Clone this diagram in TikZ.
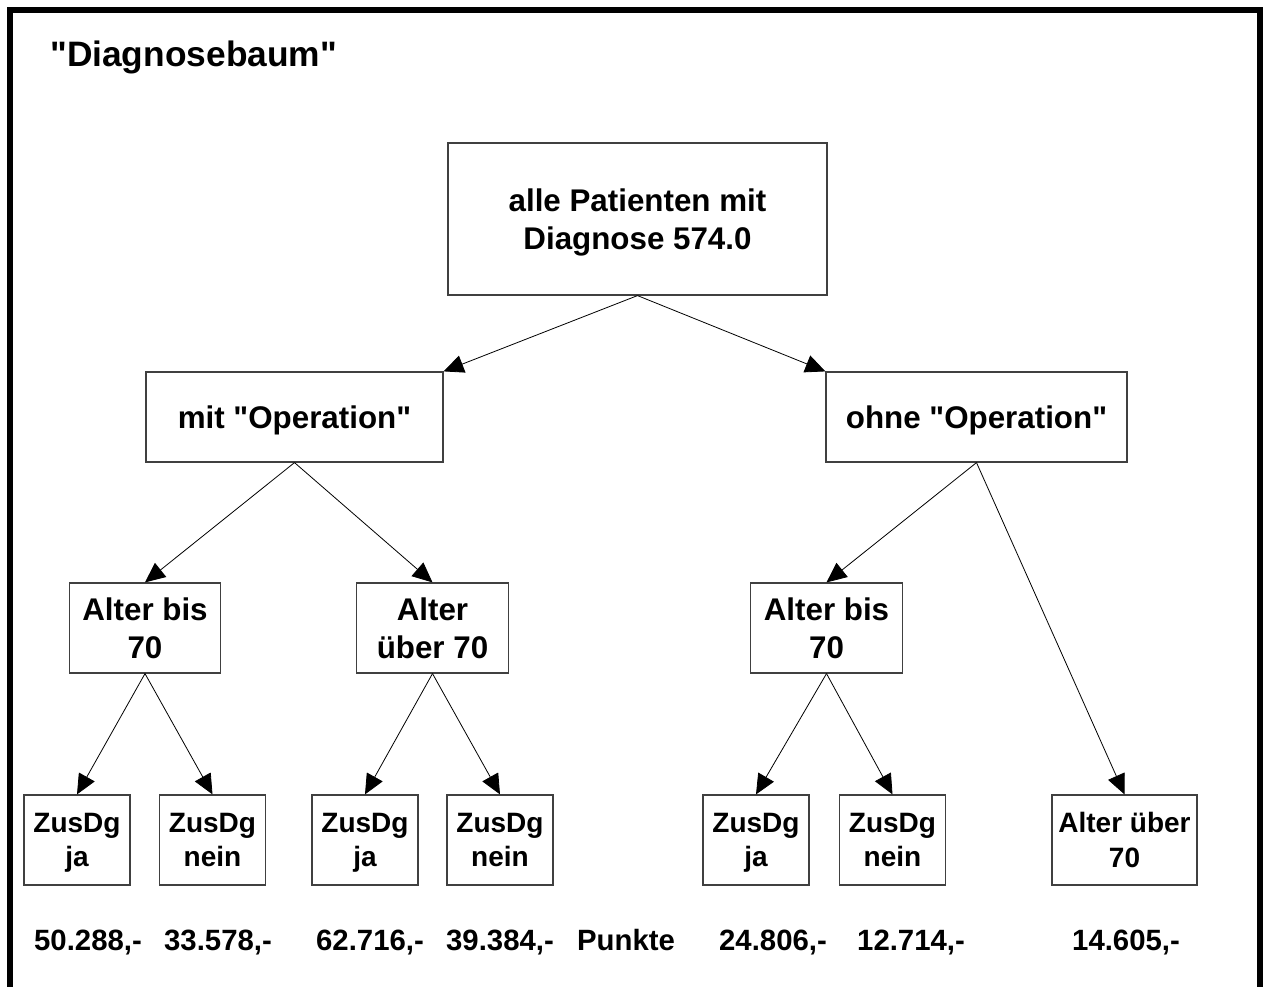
\documentclass[tikz,border=0pt]{standalone}
\usepackage{fontspec}
\setmainfont{Liberation Sans}
\usetikzlibrary{arrows.meta, positioning}

\begin{document}
\begin{tikzpicture}[
    x=0.75pt, y=-0.75pt,
    font=\bfseries\fontsize{23.5}{28}\selectfont,
    box/.style={draw=black!75, line width=0.9pt, align=center, inner sep=0pt, minimum height=67.5pt, text depth=0pt},
    opbox/.style={draw=black!75, line width=0.9pt, inner sep=0pt, minimum height=67.5pt,
      execute at begin node={\rule{0pt}{26pt}}, execute at end node=\strut},
    agebox/.style={box, minimum width=113.5pt},
    leafbox/.style={box, minimum width=79.5pt, font=\bfseries\fontsize{21}{26}\selectfont},
    arr/.style={-{Triangle[length=15pt, width=13.5pt]}, line width=0.6pt},
    val/.style={inner sep=0pt, anchor=base, font=\bfseries\fontsize{22}{26}\selectfont}
  ]
  \useasboundingbox (0,0) rectangle (1264,987);
  \draw[line width=3.8pt] (10,990) -- (10,10) -- (1260,10) -- (1260,990);

  \node[anchor=base west, inner sep=0pt, font=\bfseries\fontsize{26.5}{30}\selectfont] (title) at (50,67) {\textquotedbl Diagnosebaum\textquotedbl};

  % Wurzel und erste Ebene
  \node[box, minimum width=284.25pt, minimum height=114pt, font=\bfseries\fontsize{23.5}{29}\selectfont] (alle) at (637.5,219) {alle Patienten mit\\ Diagnose 574.0};
  \node[opbox, minimum width=222.75pt] (mitop) at (294.5,417) {mit \textquotedbl Operation\textquotedbl};
  \node[opbox, minimum width=225.75pt] (ohneop) at (976.5,417) {ohne \textquotedbl Operation\textquotedbl};

  % Alter
  \node[agebox] (mitbis) at (145,628) {Alter bis\\ 70};
  \node[agebox] (mitueber) at (432.5,628) {Alter\\ über 70};
  \node[agebox] (ohnebis) at (826.5,628) {Alter bis\\ 70};

  % Zusatzdiagnosen
  \node[leafbox] (z1) at (77,840) {ZusDg\\ ja};
  \node[leafbox] (z2) at (212.5,840) {ZusDg\\ nein};
  \node[leafbox] (z3) at (365,840) {ZusDg\\ ja};
  \node[leafbox] (z4) at (500,840) {ZusDg\\ nein};
  \node[leafbox] (z5) at (756,840) {ZusDg\\ ja};
  \node[leafbox] (z6) at (892.5,840) {ZusDg\\ nein};
  \node[leafbox, minimum width=108.75pt] (ohneueber) at (1124.5,840) {Alter über\\ 70};

  \draw[arr] (alle.south) -- (mitop.north east);
  \draw[arr] (alle.south) -- (ohneop.north west);
  \draw[arr] (mitop.south) -- (mitbis.north);
  \draw[arr] (mitop.south) -- (mitueber.north);
  \draw[arr] (ohneop.south) -- (ohnebis.north);
  \draw[arr] (ohneop.south) -- (ohneueber.north);
  \draw[arr] (mitbis.south) -- (z1.north);
  \draw[arr] (mitbis.south) -- (z2.north);
  \draw[arr] (mitueber.south) -- (z3.north);
  \draw[arr] (mitueber.south) -- (z4.north);
  \draw[arr] (ohnebis.south) -- (z5.north);
  \draw[arr] (ohnebis.south) -- (z6.north);

  % Kosten
  \node[val] (k1) at (88,950) {50.288,-};
  \node[val] (k2) at (218,950) {33.578,-};
  \node[val] (k3) at (370,950) {62.716,-};
  \node[val] (k4) at (500,950) {39.384,-};
  \node[val] (punkte) at (626,950) {Punkte};
  \node[val] (k5) at (773,950) {24.806,-};
  \node[val] (k6) at (911,950) {12.714,-};
  \node[val] (k7) at (1126,950) {14.605,-};
\end{tikzpicture}
\end{document}
